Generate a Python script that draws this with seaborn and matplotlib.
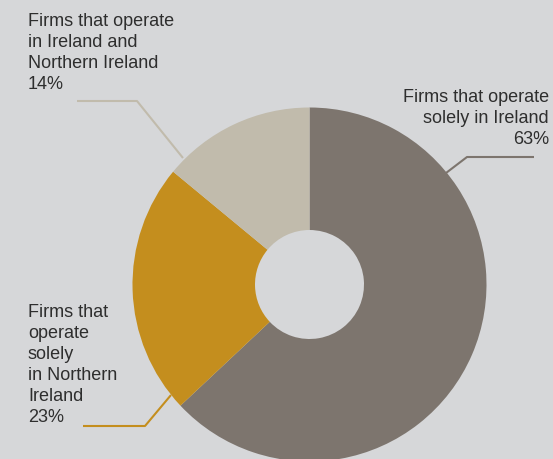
import matplotlib
matplotlib.use("Agg")
import matplotlib.pyplot as plt
import seaborn as sns

# Shares of firms by where they operate (clockwise from 12 o'clock)
categories = [
    "Firms that operate\nsolely in Ireland",
    "Firms that\noperate\nsolely\nin Northern\nIreland",
    "Firms that operate\nin Ireland and\nNorthern Ireland",
]
shares = [63, 23, 14]
slice_colors = ["#7d756e", "#c48e1e", "#c1bbac"]

W, H = 553, 459
BG = "#d6d7d9"
TEXT = "#2e2e2e"
LINE_STEP = 21  # px between label baselines

sns.set_theme(style="white", rc={"figure.facecolor": BG, "axes.facecolor": BG})
plt.rcParams["font.family"] = ["Liberation Sans", "DejaVu Sans"]
palette = sns.color_palette(slice_colors)

fig = plt.figure(figsize=(W / 100, H / 100), dpi=100)
ax = fig.add_axes([0, 0, 1, 1])


def px(x, y):
    """Pixel position (origin top-left) to data coordinates."""
    return x, H - y


cx, cy = px(309.5, 284.5)
outer_r, inner_r = 177, 54.5
ax.pie(shares, colors=palette, startangle=90, counterclock=False,
       center=(cx, cy), radius=outer_r, frame=True,
       wedgeprops=dict(width=outer_r - inner_r, linewidth=0))
ax.set_xlim(0, W)
ax.set_ylim(0, H)
ax.set_aspect("equal")
ax.axis("off")

# Leader lines: label end -> elbow -> ring edge
leaders = [
    [(534, 157), (467, 157), (446, 173)],
    [(83, 426), (145, 426), (171, 395)],
    [(77, 101), (137, 101), (183, 158)],
]
for pts, col in zip(leaders, palette):
    xs, ys = zip(*[px(*p) for p in pts])
    ax.plot(xs, ys, color=col, lw=1.5, solid_capstyle="butt")

# Labels: anchor x, first baseline y, alignment
labels = [f"{c}\n{s}%" for c, s in zip(categories, shares)]
label_pos = [((549, 102), "right"), ((28, 317), "left"), ((28, 26), "left")]
for text, ((x, y0), ha) in zip(labels, label_pos):
    for i, line in enumerate(text.split("\n")):
        tx, ty = px(x, y0 + i * LINE_STEP)
        ax.text(tx, ty, line, ha=ha, va="baseline",
                fontsize=13.0, color=TEXT)

fig.savefig("out.png", dpi=100, facecolor=BG)
